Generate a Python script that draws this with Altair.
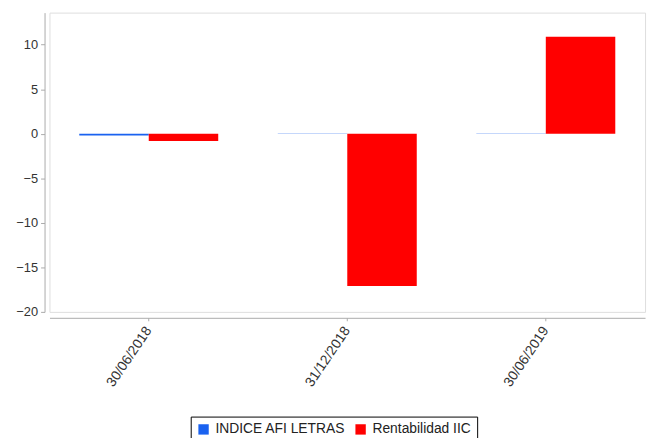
import altair as alt
import pandas as pd

dates = ["30/06/2018", "31/12/2018", "30/06/2019"]
series = ["INDICE AFI LETRAS", "Rentabilidad IIC"]
indice_vals = [-0.2, 0.02, 0.02]
rent_vals = [-0.8, -17.1, 10.9]
colors = ["#1a62f0", "#ff0000"]

rows = []
for d, a, b in zip(dates, indice_vals, rent_vals):
    rows.append({"fecha": d, "serie": series[0], "valor": a})
    rows.append({"fecha": d, "serie": series[1], "valor": b})
df = pd.DataFrame(rows)

font = "Liberation Sans"

chart = alt.Chart(df).mark_bar().encode(
    x=alt.X("fecha:N", sort=dates, title=None,
            scale=alt.Scale(paddingInner=0.3, paddingOuter=0.15),
            axis=alt.Axis(labelAngle=-56, labelAlign="right", labelBaseline="middle",
                          offset=6, domainColor="#aaaaaa", tickColor="#aaaaaa",
                          tickSize=3, labelFontSize=14, labelColor="#333333",
                          labelPadding=7, labelFont=font)),
    xOffset=alt.XOffset("serie:N", sort=series,
                        scale=alt.Scale(paddingInner=0, paddingOuter=0)),
    y=alt.Y("valor:Q", title=None,
            scale=alt.Scale(domain=[-20, 13.6], nice=False, zero=True),
            axis=alt.Axis(values=[-20, -15, -10, -5, 0, 5, 10], grid=False, offset=5,
                          domainColor="#aaaaaa", tickColor="#aaaaaa", tickSize=4,
                          labelFontSize=13, labelColor="#333333", labelPadding=3,
                          labelFont=font)),
    color=alt.Color("serie:N", sort=series,
                    scale=alt.Scale(domain=series, range=colors),
                    legend=alt.Legend(title=None, orient="none", direction="horizontal",
                                      legendX=143, legendY=409,
                                      strokeColor="#000000", padding=6,
                                      symbolType="square", symbolSize=110,
                                      symbolStrokeWidth=0, labelFontSize=14,
                                      labelFont=font, labelColor="#222222",
                                      columnPadding=8, symbolOffset=0, labelOffset=5)),
).properties(
    width=603, height=303,
    padding={"left": 42, "top": 2, "right": 5, "bottom": 125},
    autosize=alt.AutoSizeParams(type="none"),
).configure_view(
    stroke="#888888", strokeWidth=2
).configure(background="white")

chart.save("out.html", embed_options={"renderer": "svg", "actions": False})
